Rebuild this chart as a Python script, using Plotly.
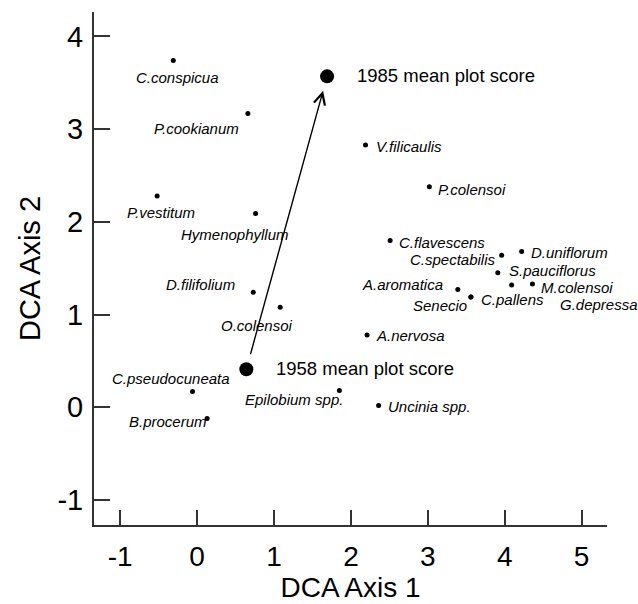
import plotly.graph_objects as go

# DCA species scores
species = [
    "C.conspicua", "P.cookianum", "P.vestitum", "Hymenophyllum", "V.filicaulis",
    "P.colensoi", "C.flavescens", "C.spectabilis", "D.uniflorum", "S.pauciflorus",
    "M.colensoi", "G.depressa", "A.aromatica", "Senecio", "C.pallens",
    "A.nervosa", "D.filifolium", "O.colensoi", "C.pseudocuneata",
    "Epilobium spp.", "Uncinia spp.", "B.procerum",
]
axis1 = [-0.31, 0.66, -0.52, 0.76, 2.19, 3.02, 2.51, 3.96, 4.22, 3.91,
         4.36, 4.09, 3.39, 3.56, 3.56, 2.21, 0.73, 1.08, -0.06, 1.85, 2.36, 0.13]
axis2 = [3.74, 3.17, 2.28, 2.09, 2.83, 2.38, 1.80, 1.64, 1.68, 1.45,
         1.33, 1.32, 1.27, 1.19, 1.19, 0.78, 1.24, 1.08, 0.17, 0.18, 0.02, -0.12]

# mean plot scores in the two survey years
years = ["1958", "1985"]
mean_axis1 = [0.64, 1.69]
mean_axis2 = [0.41, 3.57]

x_ticks = [-1, 0, 1, 2, 3, 4, 5]
y_ticks = [-1, 0, 1, 2, 3, 4]

# label placement: (xanchor, xshift px, yshift px)
label_pos = {
    "C.conspicua": ("center", 4, -17),
    "P.cookianum": ("right", -7, -15),
    "P.vestitum": ("center", 4, -17),
    "Hymenophyllum": ("left", -77, -21),
    "V.filicaulis": ("left", 8, -2),
    "P.colensoi": ("left", 7, -3),
    "C.flavescens": ("left", 7, -2),
    "C.spectabilis": ("right", -4, -4),
    "D.uniflorum": ("left", 7, -1),
    "S.pauciflorus": ("left", 9, 2),
    "M.colensoi": ("left", 7, -4),
    "G.depressa": ("left", 46, -20),
    "A.aromatica": ("right", -13, 5),
    "Senecio": ("right", -2, -9),
    "C.pallens": ("left", 8, -3),
    "A.nervosa": ("left", 7, -1),
    "D.filifolium": ("right", -16, 8),
    "O.colensoi": ("left", -61, -18),
    "C.pseudocuneata": ("left", -83, 13),
    "Epilobium spp.": ("right", 6, -9),
    "Uncinia spp.": ("left", 7, -1),
    "B.procerum": ("right", 2, -3),
}

FONT = "Liberation Sans, Arial, Helvetica, sans-serif"

fig = go.Figure()

fig.add_trace(go.Scatter(
    x=axis1, y=axis2, mode="markers",
    marker=dict(size=5, color="black"),
    hoverinfo="text", text=species, showlegend=False,
))
fig.add_trace(go.Scatter(
    x=mean_axis1, y=mean_axis2, mode="markers",
    marker=dict(size=14, color="black"),
    showlegend=False,
))

annotations = []
for name, xv, yv in zip(species, axis1, axis2):
    anchor, dx, dy = label_pos[name]
    annotations.append(dict(
        x=xv, y=yv, xref="x", yref="y", text=name, showarrow=False,
        xanchor=anchor, yanchor="middle", xshift=dx, yshift=dy,
        font=dict(family=FONT, size=15, color="black", style="italic"),
    ))

for yr, xv, yv in zip(years, mean_axis1, mean_axis2):
    annotations.append(dict(
        x=xv, y=yv, xref="x", yref="y", text=f"{yr} mean plot score",
        showarrow=False, xanchor="left", yanchor="middle",
        xshift=28, yshift=1,
        font=dict(family=FONT, size=18.5, color="black"),
    ))

# shift between the two years
annotations.append(dict(
    x=mean_axis1[1], y=mean_axis2[1], ax=mean_axis1[0], ay=mean_axis2[0],
    xref="x", yref="y", axref="x", ayref="y", text="",
    showarrow=True, arrowhead=5, arrowsize=1.6, arrowwidth=1.4,
    arrowcolor="black", standoff=15, startstandoff=14,
))

fig.update_layout(
    width=638, height=604,
    margin=dict(l=94, r=31, t=12, b=79),
    paper_bgcolor="white", plot_bgcolor="white",
    font=dict(family=FONT, color="black"),
    annotations=annotations,
    xaxis=dict(
        range=[-1.341, 5.330], tickvals=x_ticks,
        ticktext=[str(v) for v in x_ticks], automargin=False,
        showgrid=False, zeroline=False,
        showline=True, linecolor="#333", linewidth=2,
        ticks="inside", ticklen=15, tickwidth=1.5, tickcolor="#333",
        tickfont=dict(size=28, family=FONT), ticklabelstandoff=5,
        title=dict(text="DCA Axis 1", font=dict(size=28, family=FONT), standoff=2),
    ),
    yaxis=dict(
        range=[-1.270, 4.264], tickvals=y_ticks,
        ticktext=[str(v) for v in y_ticks], automargin=False,
        showgrid=False, zeroline=False,
        showline=True, linecolor="#333", linewidth=2,
        ticks="inside", ticklen=16, tickwidth=1.5, tickcolor="#333",
        tickfont=dict(size=29, family=FONT), ticklabelstandoff=3,
        title=dict(text="DCA Axis 2", font=dict(size=29, family=FONT), standoff=8),
    ),
)

fig.write_html("out.html")
